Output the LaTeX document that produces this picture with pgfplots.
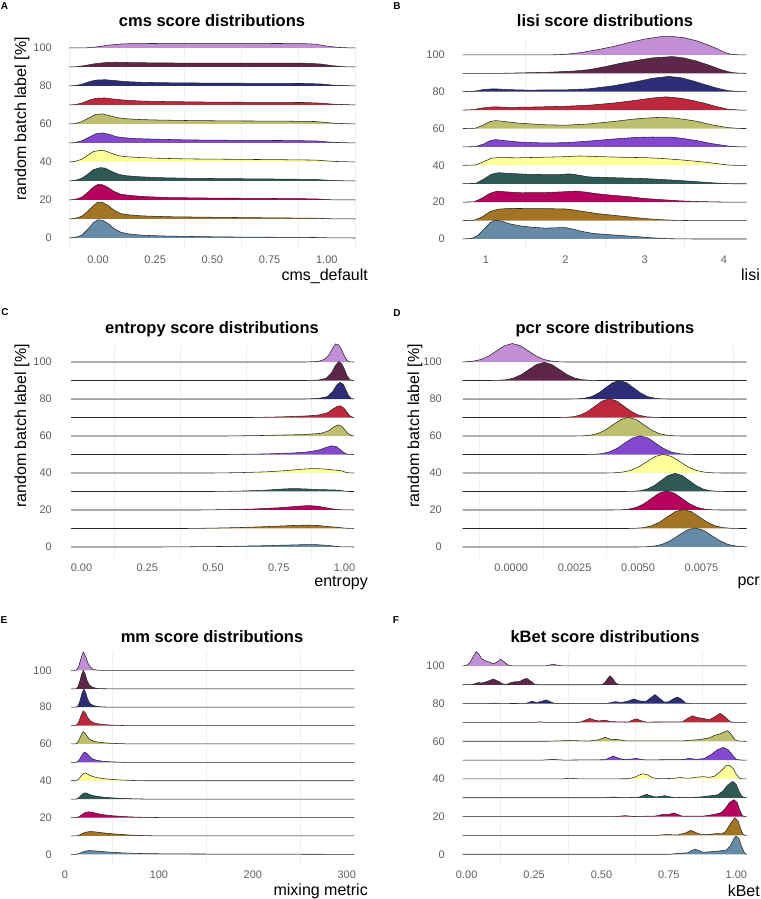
\documentclass[border=0pt]{standalone}
\usepackage{fontspec}
\setmainfont{Liberation Sans}
\usepackage{pgfplots}
\pgfplotsset{compat=1.18}
\definecolor{c0}{RGB}{102,139,166}
\definecolor{c10}{RGB}{163,116,36}
\definecolor{c20}{RGB}{181,0,94}
\definecolor{c30}{RGB}{46,89,85}
\definecolor{c40}{RGB}{255,255,153}
\definecolor{c50}{RGB}{131,72,207}
\definecolor{c60}{RGB}{189,190,110}
\definecolor{c70}{RGB}{190,40,60}
\definecolor{c80}{RGB}{44,45,118}
\definecolor{c90}{RGB}{94,38,72}
\definecolor{c100}{RGB}{194,142,214}
\definecolor{tickgray}{RGB}{95,95,95}
\definecolor{ridgeline}{RGB}{40,40,40}
\pgfplotsset{
  ridgeaxis/.style={
    scale only axis, clip=false, anchor=south west,
    axis line style={draw=none}, major tick length=0pt, minor tick length=0pt,
    tick style={draw=none}, scaled x ticks=false, scaled y ticks=false,
    xmajorgrids=false, xminorgrids=true, ymajorgrids=false,
    minor grid style={color=black!6, line width=0.5bp},
    ytick={0,20,40,60,80,100}, yticklabels={0,20,40,60,80,100},
    tick label style={font=\fontsize{11bp}{13bp}\selectfont, text=tickgray},
    yticklabel style={anchor=east, inner sep=0pt},
    xticklabel style={anchor=center, inner sep=0pt, yshift=-10bp},
    no markers,
  },
  rl/.style={draw=ridgeline, line width=0.55bp, line join=round},
}
\begin{document}
\begin{tikzpicture}
\useasboundingbox (0,0) rectangle (761bp,899bp);
% ---------------- A ----------------
\begin{axis}[ridgeaxis, at={(69.4bp,649bp)}, width=286bp, height=212bp,
  xmin=-0.125, xmax=1.125, ymin=-6.32, ymax=105.26,
  xtick={0,0.25,0.5,0.75,1}, xticklabels={0.00,0.25,0.50,0.75,1.00},
  minor xtick={-0.125,0.125,0.375,0.625,0.875,1.125},
  yticklabel style={xshift=-17.4bp}]
\addplot[rl, fill=c100] coordinates {(-0.125,100) (-0.05,100.1) (-0.01,100.5) (0.04,101.4) (0.1,102.1) (0.15,102.3) (0.3,102.4) (0.5,102.4) (0.7,102.4) (0.9,102.3) (0.95,102) (1.0,101) (1.05,100.3) (1.1,100.05) (1.125,100)};
\addplot[rl, fill=c90] coordinates {(-0.125,90) (-0.1,90.1) (-0.06,90.7) (-0.02,91.6) (0.03,92.3) (0.08,92.5) (0.15,92.3) (0.3,92.1) (0.5,92) (0.7,92) (0.9,92) (0.97,91.6) (1.03,90.6) (1.08,90.1) (1.125,90)};
\addplot[rl, fill=c80] coordinates {(-0.125,80) (-0.1,80.2) (-0.07,80.9) (-0.04,82.2) (-0.01,83.1) (0.03,83.3) (0.07,82.9) (0.12,82.3) (0.2,81.9) (0.3,81.7) (0.5,81.5) (0.7,81.4) (0.9,81.3) (0.97,81.1) (1.03,80.4) (1.125,80)};
\addplot[rl, fill=c70] coordinates {(-0.125,70) (-0.1,70.2) (-0.07,71) (-0.04,72.5) (-0.01,73.5) (0.03,73.7) (0.07,73.1) (0.12,72.5) (0.2,72) (0.3,71.8) (0.5,71.5) (0.7,71.4) (0.9,71.3) (0.97,71) (1.03,70.4) (1.125,70)};
\addplot[rl, fill=c60] coordinates {(-0.125,60) (-0.1,60.2) (-0.07,61.3) (-0.04,63.2) (-0.01,65) (0.02,65.3) (0.05,64.4) (0.08,63.4) (0.12,62.8) (0.17,62.4) (0.25,62.1) (0.4,61.8) (0.6,61.6) (0.8,61.5) (0.95,61.3) (1.03,60.4) (1.125,60)};
\addplot[rl, fill=c50] coordinates {(-0.125,50) (-0.1,50.2) (-0.07,51.2) (-0.04,53) (-0.01,54.8) (0.02,55.3) (0.05,54.5) (0.08,53.3) (0.12,52.7) (0.17,52.3) (0.25,52) (0.4,51.6) (0.6,51.4) (0.8,51.3) (0.95,51.1) (1.03,50.3) (1.125,50)};
\addplot[rl, fill=c40] coordinates {(-0.125,40) (-0.1,40.3) (-0.07,41.5) (-0.045,43.5) (-0.02,45.5) (0.01,46.1) (0.03,45.9) (0.06,44.5) (0.09,43.3) (0.12,42.8) (0.17,42.4) (0.25,42) (0.4,41.6) (0.6,41.4) (0.8,41.2) (0.95,41) (1.03,40.3) (1.125,40)};
\addplot[rl, fill=c30] coordinates {(-0.125,30) (-0.1,30.3) (-0.07,31.5) (-0.045,33.5) (-0.02,36) (0.01,37) (0.03,36.8) (0.06,35) (0.09,33.5) (0.12,32.8) (0.17,32.3) (0.25,31.8) (0.4,31.4) (0.6,31.2) (0.8,31) (0.95,30.8) (1.03,30.2) (1.125,30)};
\addplot[rl, fill=c20] coordinates {(-0.125,20) (-0.1,20.3) (-0.07,21.5) (-0.045,24) (-0.02,26.8) (0,28.2) (0.02,28) (0.045,26.5) (0.07,24.5) (0.1,23) (0.14,22.4) (0.2,21.8) (0.3,21.3) (0.5,21) (0.75,20.8) (0.95,20.6) (1.02,20.1) (1.125,20)};
\addplot[rl, fill=c10] coordinates {(-0.125,10) (-0.1,10.3) (-0.07,11.5) (-0.045,14) (-0.02,17) (0,18.9) (0.02,18.7) (0.045,17) (0.07,14.6) (0.1,12.8) (0.14,12.1) (0.2,11.6) (0.3,11.2) (0.5,10.9) (0.75,10.6) (0.95,10.4) (1.02,10.1) (1.125,10)};
\addplot[rl, fill=c0] coordinates {(-0.125,0) (-0.1,0.3) (-0.07,1.5) (-0.045,4.5) (-0.02,8) (0,9.6) (0.02,9.3) (0.045,7.5) (0.07,5) (0.1,3) (0.14,2) (0.2,1.4) (0.3,1.0) (0.45,0.7) (0.6,0.5) (0.8,0.35) (0.95,0.25) (1.02,0.05) (1.125,0)};
\end{axis}
% ---------------- B ----------------
\begin{axis}[ridgeaxis, at={(462.7bp,649bp)}, width=284bp, height=212bp,
  xmin=0.706, xmax=4.287, ymin=-5.98, ymax=109.2,
  xtick={1,2,3,4}, xticklabels={1,2,3,4},
  minor xtick={1.5,2.5,3.5},
  yticklabel style={xshift=-17.7bp}]
\addplot[rl, fill=c100] coordinates {(0.706,100) (1.8,100) (2.0,100.3) (2.2,101.3) (2.4,102.8) (2.6,104.5) (2.8,106.7) (3.0,108.6) (3.2,109.9) (3.35,110) (3.5,109.3) (3.65,107.7) (3.8,105.4) (3.9,103.6) (4.0,101.5) (4.08,100.4) (4.2,100) (4.287,100)};
\addplot[rl, fill=c90] coordinates {(0.706,90) (1.2,90) (1.5,90.3) (1.8,90.6) (2.1,91.2) (2.3,92) (2.5,93.6) (2.7,95.5) (2.9,97) (3.1,98.4) (3.35,99.1) (3.5,98.3) (3.65,96.7) (3.8,94.6) (3.95,92.2) (4.05,90.9) (4.15,90.2) (4.287,90)};
\addplot[rl, fill=c80] coordinates {(0.706,80) (0.87,80.4) (0.97,81.2) (1.1,81.6) (1.25,81.2) (1.5,80.9) (2.0,81) (2.3,81.6) (2.6,83.2) (2.9,85.5) (3.1,87.3) (3.3,88.3) (3.45,87.7) (3.6,86) (3.75,84) (3.9,82.1) (4.05,80.6) (4.2,80.05) (4.287,80)};
\addplot[rl, fill=c70] coordinates {(0.706,70) (0.85,70.3) (0.95,71.2) (1.1,71.8) (1.3,71.5) (1.6,71.7) (2.0,72.1) (2.3,72.7) (2.6,73.8) (2.9,75.4) (3.1,76.6) (3.27,77.2) (3.45,76.5) (3.6,75.3) (3.75,73.8) (3.9,72) (4.05,70.5) (4.2,70.05) (4.287,70)};
\addplot[rl, fill=c60] coordinates {(0.706,60) (0.87,60.2) (0.97,62) (1.05,63.8) (1.12,64.3) (1.2,64) (1.4,63) (1.7,62.1) (2.0,61.8) (2.3,62.5) (2.6,63.8) (2.9,65.3) (3.15,66) (3.35,65.8) (3.5,65) (3.65,64) (3.85,62) (4.05,60.5) (4.2,60.05) (4.287,60)};
\addplot[rl, fill=c50] coordinates {(0.706,50) (0.87,50.2) (0.97,51.6) (1.05,53.4) (1.12,54) (1.2,53.6) (1.4,52.7) (1.7,52.2) (2.0,52.3) (2.3,53.2) (2.6,54.3) (2.9,55.2) (3.1,55.4) (3.35,55.3) (3.5,54.5) (3.65,53.5) (3.85,51.8) (4.05,50.5) (4.2,50.05) (4.287,50)};
\addplot[rl, fill=c40] coordinates {(0.706,40) (0.87,40.2) (0.97,42) (1.07,43.9) (1.15,44.2) (1.4,44.1) (1.7,44.4) (2.0,44.7) (2.18,45.1) (2.4,44.8) (2.7,44.4) (3.0,44.2) (3.2,43.8) (3.45,43) (3.7,42) (3.9,41) (4.05,40.2) (4.15,40) (4.287,40)};
\addplot[rl, fill=c30] coordinates {(0.706,30) (0.87,30.2) (0.97,32.5) (1.07,35.2) (1.16,36) (1.3,35.6) (1.55,35.1) (1.9,34.9) (2.05,35.4) (2.15,34.8) (2.3,33.7) (2.6,33.3) (3.0,32.8) (3.4,31.9) (3.7,31) (3.9,30.4) (4.1,30) (4.287,30)};
\addplot[rl, fill=c20] coordinates {(0.706,20) (0.85,20.2) (0.95,22.2) (1.05,24.8) (1.14,26) (1.25,25.6) (1.45,25.1) (1.75,25.2) (2.0,25.7) (2.13,26) (2.25,25.5) (2.4,24.6) (2.6,23.7) (2.8,23) (3.0,22) (3.2,21.4) (3.45,20.7) (3.7,20.3) (4.0,20.05) (4.287,20)};
\addplot[rl, fill=c10] coordinates {(0.706,10) (0.85,10.2) (0.95,12) (1.05,14.8) (1.15,16.2) (1.3,16.6) (1.6,16.5) (1.9,16.4) (2.0,16.3) (2.1,15.8) (2.25,14.8) (2.4,13.8) (2.6,12.9) (2.8,12) (3.0,11.1) (3.2,10.5) (3.4,10.1) (3.6,10) (4.287,10)};
\addplot[rl, fill=c0] coordinates {(0.706,0) (0.82,0.3) (0.9,2) (0.98,5.5) (1.05,8.8) (1.12,10.3) (1.2,9.6) (1.3,8.2) (1.45,7.0) (1.6,6.3) (1.75,5.9) (1.9,6.1) (2.0,6.2) (2.1,5.3) (2.2,4.2) (2.35,3.0) (2.5,2.5) (2.7,1.9) (2.9,1.3) (3.1,0.6) (3.3,0.15) (3.6,0) (4.287,0)};
\end{axis}
% ---------------- C ----------------
\begin{axis}[ridgeaxis, at={(71bp,341bp)}, width=283bp, height=213bp,
  xmin=-0.0399, xmax=1.0361, ymin=-5.95, ymax=109.2,
  xtick={0,0.25,0.5,0.75,1}, xticklabels={0.00,0.25,0.50,0.75,1.00},
  minor xtick={0.125,0.375,0.625,0.875},
  yticklabel style={xshift=-19bp}]
\addplot[rl, fill=c100] coordinates {(-0.0399,100) (0.85,100) (0.9,100.3) (0.925,101.5) (0.942,104) (0.955,107.5) (0.966,109.8) (0.978,109.2) (0.99,106.5) (1.0,103) (1.01,100.8) (1.02,100.1) (1.0361,100)};
\addplot[rl, fill=c90] coordinates {(-0.0399,90) (0.85,90) (0.9,90.2) (0.93,91.2) (0.95,94) (0.965,98) (0.978,100.3) (0.99,99) (1.0,96) (1.01,92.5) (1.02,90.5) (1.03,90.05) (1.0361,90)};
\addplot[rl, fill=c80] coordinates {(-0.0399,80) (0.85,80) (0.9,80.3) (0.935,81.3) (0.955,84) (0.97,87.5) (0.983,89) (0.995,88) (1.005,85) (1.015,82) (1.025,80.3) (1.0361,80)};
\addplot[rl, fill=c70] coordinates {(-0.0399,70) (0.65,70) (0.75,70.3) (0.85,70.8) (0.9,71.3) (0.935,72.5) (0.955,74.5) (0.972,76) (0.985,76.3) (0.998,75) (1.01,72.8) (1.02,71) (1.03,70.2) (1.0361,70)};
\addplot[rl, fill=c60] coordinates {(-0.0399,60) (0.55,60) (0.7,60.3) (0.85,60.8) (0.91,61.4) (0.94,62.8) (0.96,65) (0.977,66) (0.99,65.2) (1.0,63.5) (1.012,61.5) (1.025,60.3) (1.0361,60)};
\addplot[rl, fill=c50] coordinates {(-0.0399,50) (0.55,50) (0.7,50.3) (0.8,50.8) (0.85,51.2) (0.9,52.3) (0.93,53.8) (0.951,54.7) (0.97,54.2) (0.985,52.5) (1.0,50.8) (1.012,50.1) (1.0361,50)};
\addplot[rl, fill=c40] coordinates {(-0.0399,40) (0.5,40) (0.6,40.2) (0.7,40.6) (0.78,41.3) (0.84,42.1) (0.88,42.4) (0.92,42.2) (0.96,41.6) (0.985,41.3) (1.0,40.6) (1.015,40.1) (1.0361,40)};
\addplot[rl, fill=c30] coordinates {(-0.0399,30) (0.5,30) (0.6,30.2) (0.7,30.7) (0.76,31.3) (0.805,31.6) (0.85,31.4) (0.9,31) (0.95,30.9) (0.98,30.7) (1.0,30.2) (1.015,30) (1.0361,30)};
\addplot[rl, fill=c20] coordinates {(-0.0399,20) (0.45,20) (0.55,20.2) (0.65,20.5) (0.75,21.2) (0.82,22) (0.865,22.4) (0.9,22) (0.93,21.2) (0.96,20.5) (0.99,20.1) (1.0361,20)};
\addplot[rl, fill=c10] coordinates {(-0.0399,10) (0.4,10) (0.5,10.2) (0.6,10.5) (0.7,11) (0.8,11.6) (0.856,11.8) (0.9,11.6) (0.94,11) (0.97,10.7) (1.0,10.2) (1.0361,10)};
\addplot[rl, fill=c0] coordinates {(-0.0399,0) (0.3,0) (0.4,0.1) (0.55,0.3) (0.7,0.7) (0.8,1.1) (0.856,1.3) (0.9,1.2) (0.94,0.8) (0.97,0.3) (0.99,0.05) (1.0361,0)};
\end{axis}
% ---------------- D ----------------
\begin{axis}[ridgeaxis, at={(462.7bp,341bp)}, width=284bp, height=213bp,
  xmin=-0.001911, xmax=0.009281, ymin=-5.95, ymax=109.2,
  xtick={0,0.0025,0.005,0.0075}, xticklabels={0.0000,0.0025,0.0050,0.0075},
  minor xtick={-0.00125,0.00125,0.00375,0.00625,0.00875},
  yticklabel style={xshift=-20.7bp}]
\addplot[rl, fill=c100] coordinates {(-0.001911,100) (-0.00181,100.11) (-0.0015,100.44) (-0.00119,101.35) (-0.00088,103.25) (-0.00057,106.07) (-0.00026,108.82) (0.00005,110) (0.00036,108.82) (0.00067,106.07) (0.00098,103.25) (0.00129,101.35) (0.0016,100.44) (0.00191,100.11) (0.0022,100) (0.009281,100)};
\addplot[rl, fill=c90] coordinates {(-0.001911,90) (-0.0008,90) (-0.0005,90.11) (-0.0002,90.43) (0.0001,91.32) (0.0004,93.18) (0.0007,95.95) (0.001,98.64) (0.0013,99.8) (0.0016,98.64) (0.0019,95.95) (0.0022,93.18) (0.0025,91.32) (0.0028,90.43) (0.0031,90.11) (0.0034,90) (0.009281,90)};
\addplot[rl, fill=c80] coordinates {(-0.001911,80) (0.0023,80) (0.00262,80.11) (0.0029,80.44) (0.00317,81.35) (0.00345,83.25) (0.00372,86.07) (0.004,88.82) (0.00427,90) (0.00455,88.82) (0.00482,86.07) (0.0051,83.25) (0.00537,81.35) (0.00565,80.44) (0.00592,80.11) (0.0062,80) (0.009281,80)};
\addplot[rl, fill=c70] coordinates {(-0.001911,70) (0.0019,70) (0.00216,70.11) (0.00245,70.44) (0.00273,71.37) (0.00302,73.28) (0.0033,76.13) (0.00359,78.91) (0.00387,80.1) (0.00416,78.91) (0.00444,76.13) (0.00473,73.28) (0.00501,71.37) (0.0053,70.44) (0.00558,70.11) (0.0059,70) (0.009281,70)};
\addplot[rl, fill=c60] coordinates {(-0.001911,60) (0.0025,60) (0.00282,60.11) (0.00312,60.44) (0.00342,61.37) (0.00372,63.28) (0.00402,66.13) (0.00432,68.91) (0.00462,70.1) (0.00492,68.91) (0.00522,66.13) (0.00552,63.28) (0.00582,61.37) (0.00612,60.44) (0.00642,60.11) (0.0067,60) (0.009281,60)};
\addplot[rl, fill=c50] coordinates {(-0.001911,50) (0.0029,50) (0.00325,50.11) (0.00356,50.44) (0.00386,51.37) (0.00417,53.28) (0.00447,56.13) (0.00478,58.91) (0.00508,60.1) (0.00539,58.91) (0.00569,56.13) (0.006,53.28) (0.0063,51.37) (0.00661,50.44) (0.00691,50.11) (0.0072,50) (0.009281,50)};
\addplot[rl, fill=c40] coordinates {(-0.001911,40) (0.0037,40) (0.00405,40.11) (0.00437,40.44) (0.0047,41.37) (0.00502,43.28) (0.00535,46.13) (0.00567,48.91) (0.006,50.1) (0.00632,48.91) (0.00665,46.13) (0.00697,43.28) (0.0073,41.37) (0.00762,40.44) (0.00795,40.11) (0.0083,40) (0.009281,40)};
\addplot[rl, fill=c30] coordinates {(-0.001911,30) (0.0045,30) (0.00481,30.11) (0.00509,30.43) (0.00536,31.32) (0.00564,33.18) (0.00591,35.95) (0.00619,38.64) (0.00646,39.8) (0.00674,38.64) (0.00701,35.95) (0.00729,33.18) (0.00756,31.32) (0.00784,30.43) (0.00811,30.11) (0.0084,30) (0.009281,30)};
\addplot[rl, fill=c20] coordinates {(-0.001911,20) (0.004,20) (0.00433,20.11) (0.00463,20.45) (0.00493,21.39) (0.00523,23.35) (0.00553,26.25) (0.00583,29.08) (0.00613,30.3) (0.00643,29.08) (0.00673,26.25) (0.00703,23.35) (0.00733,21.39) (0.00763,20.45) (0.00793,20.11) (0.0082,20) (0.009281,20)};
\addplot[rl, fill=c10] coordinates {(-0.001911,10) (0.0046,10) (0.00489,10.11) (0.00521,10.45) (0.00552,11.39) (0.00584,13.35) (0.00615,16.25) (0.00647,19.08) (0.00678,20.3) (0.0071,19.08) (0.00741,16.25) (0.00773,13.35) (0.00804,11.39) (0.00836,10.45) (0.00867,10.11) (0.009,10) (0.009281,10)};
\addplot[rl, fill=c0] coordinates {(-0.001911,0) (0.005,0) (0.00529,0.11) (0.00562,0.45) (0.00594,1.39) (0.00627,3.35) (0.00659,6.25) (0.00692,9.08) (0.00724,10.3) (0.00757,9.08) (0.00789,6.25) (0.00822,3.35) (0.00854,1.39) (0.00887,0.45) (0.00919,0.11) (0.009281,0)};
\end{axis}
% ---------------- E ----------------
\begin{axis}[ridgeaxis, at={(65bp,34bp)}, width=289.3bp, height=213bp,
  xmin=0, xmax=308, ymin=-5.8, ymax=110,
  xtick={0,100,200,300}, xticklabels={0,100,200,300},
  minor xtick={50,150,250},
  yticklabel style={xshift=-13bp}]
\addplot[rl, fill=c100] coordinates {(6.4,100) (11,100) (13,100.6) (15,102.8) (17,106.5) (19.5,110.1) (22,107.5) (24.5,103.8) (27,101.7) (30,100.6) (34,100.15) (40,100) (308,100)};
\addplot[rl, fill=c90] coordinates {(6.4,90) (11.5,90) (13.5,90.8) (15.5,93.5) (17.5,97.5) (19.5,100.1) (21.5,98) (23.5,94.5) (26,92) (29,90.9) (33,90.3) (38,90.05) (45,90) (308,90)};
\addplot[rl, fill=c80] coordinates {(6.4,80) (12,80) (14,80.8) (16,83.5) (18,87.5) (20,89.8) (22,88) (24,84.5) (26.5,82) (30,80.9) (35,80.3) (42,80.1) (50,80) (308,80)};
\addplot[rl, fill=c70] coordinates {(6.4,70) (11,70) (13,70.6) (15,72.5) (17.5,76) (19.5,78) (21.5,77) (24,74.5) (27,72.5) (31,71.4) (37,70.8) (45,70.4) (55,70.1) (65,70) (308,70)};
\addplot[rl, fill=c60] coordinates {(6.4,60) (11,60) (13,60.5) (15,62.2) (17.5,65.2) (19.5,66.7) (21.5,65.8) (24,63.8) (27,62.3) (31,61.4) (38,60.8) (48,60.4) (60,60.15) (72,60) (308,60)};
\addplot[rl, fill=c50] coordinates {(6.4,50) (11.5,50) (14,50.6) (16.5,52.5) (19,54.8) (21,55.6) (23.5,54.8) (26,53.3) (29,52) (33,51.2) (40,50.6) (50,50.25) (62,50.05) (70,50) (308,50)};
\addplot[rl, fill=c40] coordinates {(6.4,40) (11.5,40) (14,40.6) (17,42.5) (19.5,43.9) (21.5,44.2) (24,43.6) (28,42.6) (33,41.8) (40,41.2) (50,40.7) (60,40.4) (72,40.15) (85,40) (308,40)};
\addplot[rl, fill=c30] coordinates {(6.4,30) (11.5,30) (14,30.5) (17,32) (19.5,33.1) (21.5,33.4) (24,33) (28,32.2) (33,31.6) (40,31.1) (50,30.7) (62,30.35) (75,30.15) (90,30) (308,30)};
\addplot[rl, fill=c20] coordinates {(6.4,20) (12,20) (15,20.5) (18,21.6) (21,22.6) (25,23.1) (29,22.8) (34,22.2) (40,21.6) (50,21) (60,20.6) (72,20.3) (85,20.1) (100,20) (308,20)};
\addplot[rl, fill=c10] coordinates {(6.4,10) (12,10) (15,10.4) (18,11.2) (22,12) (27,12.4) (32,12.2) (40,11.7) (50,11.2) (60,10.8) (72,10.4) (85,10.15) (100,10.03) (115,10) (308,10)};
\addplot[rl, fill=c0] coordinates {(6.4,0) (12,0) (15,0.4) (18,1.1) (22,1.8) (26,2.0) (31,1.9) (40,1.5) (50,1.1) (65,0.7) (80,0.45) (100,0.3) (130,0.2) (160,0.15) (200,0.1) (250,0.06) (285,0.02) (300,0) (308,0)};
\end{axis}
% ---------------- F ----------------
\begin{axis}[ridgeaxis, at={(462.7bp,34bp)}, width=284bp, height=213bp,
  xmin=-0.0148, xmax=1.0386, ymin=-5.7, ymax=107.4,
  xtick={0,0.25,0.5,0.75,1}, xticklabels={0.00,0.25,0.50,0.75,1.00},
  minor xtick={0.125,0.375,0.625,0.875},
  yticklabel style={xshift=-17.7bp}]
\addplot[rl, fill=c100] coordinates {(-0.0148,100) (0.0,100.3) (0.012,101.8) (0.024,105) (0.035,107.6) (0.045,106.3) (0.056,103.8) (0.068,102.8) (0.083,102.1) (0.099,101.1) (0.112,102) (0.126,103.5) (0.14,102) (0.154,100.4) (0.17,100.05) (0.29,100) (0.305,100.4) (0.321,100.9) (0.337,100.4) (0.355,100) (1.0386,100)};
\addplot[rl, fill=c90] coordinates {(-0.0148,90) (0.02,90.1) (0.043,91.1) (0.06,91) (0.08,92) (0.099,93) (0.115,92) (0.135,90.4) (0.15,90.3) (0.165,91.2) (0.179,91.6) (0.195,91.6) (0.21,92.8) (0.2225,93.4) (0.237,92) (0.253,90.2) (0.27,90) (0.5,90) (0.512,91) (0.522,93.2) (0.532,94.8) (0.542,93.2) (0.552,91) (0.564,90.1) (0.58,90) (1.0386,90)};
\addplot[rl, fill=c80] coordinates {(-0.0148,80) (0.08,80) (0.099,80.3) (0.12,80) (0.22,80.1) (0.241,81.2) (0.26,80.6) (0.278,81.2) (0.294,82) (0.31,81) (0.325,80.1) (0.52,80.1) (0.55,81) (0.575,80.6) (0.6,81.4) (0.62,82.5) (0.64,81.4) (0.665,81.2) (0.682,83) (0.698,84.8) (0.714,83) (0.732,80.8) (0.75,81) (0.767,82.6) (0.782,83.5) (0.797,82.3) (0.812,80.3) (0.83,80) (1.0386,80)};
\addplot[rl, fill=c70] coordinates {(-0.0148,70) (0.25,70) (0.272,70.3) (0.3,70) (0.42,70.1) (0.44,71.2) (0.457,72.1) (0.475,71.2) (0.49,70.8) (0.513,71.2) (0.535,70.4) (0.6,70.2) (0.615,71.2) (0.63,71.9) (0.645,71) (0.665,70.2) (0.8,70.3) (0.82,72.2) (0.837,73.5) (0.855,72.6) (0.878,72.1) (0.9,71.4) (0.92,73) (0.94,74.8) (0.958,73) (0.977,70.4) (0.995,70) (1.0386,70)};
\addplot[rl, fill=c60] coordinates {(-0.0148,60) (0.3,60) (0.383,60.4) (0.45,60.1) (0.49,60.8) (0.513,62.1) (0.535,61) (0.562,60.9) (0.59,60.2) (0.8,60.2) (0.865,60.9) (0.9,61.8) (0.92,63.2) (0.935,63.7) (0.95,64.5) (0.968,65.7) (0.982,63.5) (0.995,60.8) (1.01,60.05) (1.0386,60)};
\addplot[rl, fill=c50] coordinates {(-0.0148,50) (0.28,50) (0.32,50.35) (0.36,50) (0.515,50.2) (0.53,51.3) (0.544,52.1) (0.56,51.2) (0.58,50.3) (0.61,50.5) (0.628,50.9) (0.645,50.4) (0.665,50.1) (0.8,50.3) (0.828,50.9) (0.85,50.4) (0.88,50.8) (0.905,52.8) (0.93,55.5) (0.952,56.7) (0.97,55.5) (0.985,52.8) (1.0,50.4) (1.015,50.05) (1.0386,50)};
\addplot[rl, fill=c40] coordinates {(-0.0148,40) (0.35,40) (0.383,40.35) (0.42,40) (0.6,40.1) (0.625,41) (0.645,42.4) (0.655,42.7) (0.67,42.2) (0.69,40.6) (0.71,40.1) (0.77,40.3) (0.791,40.8) (0.81,40.4) (0.83,40.4) (0.85,40.9) (0.88,41.2) (0.9,40.8) (0.92,41.5) (0.945,44.5) (0.962,47) (0.974,47.3) (0.988,45.6) (1.0,42.5) (1.012,40.3) (1.025,40) (1.0386,40)};
\addplot[rl, fill=c30] coordinates {(-0.0148,30) (0.5,30) (0.544,30.35) (0.58,30) (0.64,30.3) (0.655,31.2) (0.667,31.8) (0.68,31.2) (0.7,30.4) (0.72,30.7) (0.736,31.1) (0.75,30.6) (0.77,30.1) (0.86,30.3) (0.9,31) (0.93,31.5) (0.95,33.5) (0.968,36.8) (0.987,38.7) (1.0,37) (1.01,33.5) (1.02,30.8) (1.03,30.1) (1.0386,30)};
\addplot[rl, fill=c20] coordinates {(-0.0148,20) (0.55,20) (0.587,20.5) (0.62,20.05) (0.7,20.3) (0.729,21.2) (0.75,21.2) (0.769,21.9) (0.785,21) (0.8,20.2) (0.88,20.3) (0.92,21.2) (0.945,22.2) (0.96,24.5) (0.975,27.5) (0.991,29) (1.003,27.5) (1.013,23.5) (1.022,20.6) (1.03,20.05) (1.0386,20)};
\addplot[rl, fill=c10] coordinates {(-0.0148,10) (0.7,10) (0.742,10.5) (0.78,10.2) (0.81,11.2) (0.831,12.7) (0.85,11.5) (0.87,10.4) (0.9,10.5) (0.927,11) (0.945,10.8) (0.96,12) (0.975,15.5) (0.995,19.4) (1.007,17.5) (1.016,13.5) (1.025,10.6) (1.033,10.05) (1.0386,10)};
\addplot[rl, fill=c0] coordinates {(-0.0148,0) (0.75,0) (0.79,0.5) (0.82,0.8) (0.835,2) (0.847,2.7) (0.86,2) (0.875,1.1) (0.89,1.2) (0.92,1.5) (0.945,1.9) (0.964,2.3) (0.978,4.5) (0.99,8) (0.999,9.7) (1.01,8.2) (1.02,4) (1.03,0.8) (1.036,0.1) (1.0386,0)};
\end{axis}
% ---------------- titles and labels ----------------
\tikzset{ttl/.style={font=\fontsize{16.5bp}{19bp}\selectfont\bfseries, inner sep=0pt},
         lbl/.style={font=\fontsize{16bp}{19bp}\selectfont, inner sep=0pt},
         pan/.style={font=\fontsize{10bp}{12bp}\selectfont\bfseries, inner sep=0pt}}
\node[ttl] at (212bp,878bp) {cms score distributions};
\node[ttl] at (605bp,878bp) {lisi score distributions};
\node[ttl] at (212bp,570bp) {entropy score distributions};
\node[ttl] at (605bp,570bp) {pcr score distributions};
\node[ttl] at (212bp,262bp) {mm score distributions};
\node[ttl] at (605bp,262bp) {kBet score distributions};
\node[pan] at (4.5bp,892.5bp) {A};
\node[pan] at (397bp,893bp) {B};
\node[pan] at (5bp,587bp) {C};
\node[pan] at (397bp,586bp) {D};
\node[pan] at (4bp,279bp) {E};
\node[pan] at (396bp,279bp) {F};
\node[lbl, rotate=90] at (22bp,780bp) {random batch label [\%]};
\node[lbl, rotate=90] at (22bp,473bp) {random batch label [\%]};
\node[lbl, rotate=90] at (415bp,473bp) {random batch label [\%]};
\node[lbl, anchor=east] at (368bp,623bp) {cms\_default};
\node[lbl, anchor=east] at (760bp,624bp) {lisi};
\node[lbl, anchor=east] at (368bp,316bp) {entropy};
\node[lbl, anchor=east] at (760bp,316bp) {pcr};
\node[lbl, anchor=east] at (368bp,8bp) {mixing metric};
\node[lbl, anchor=east] at (760bp,8bp) {kBet};
\end{tikzpicture}
\end{document}
